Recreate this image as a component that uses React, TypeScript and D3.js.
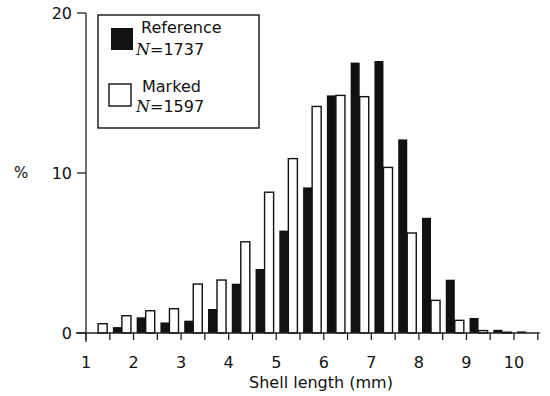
import * as d3 from 'd3'

// bin starts (mm), 0.5 mm bins
const BINS = [1, 1.5, 2, 2.5, 3, 3.5, 4, 4.5, 5, 5.5, 6, 6.5, 7, 7.5, 8, 8.5, 9, 9.5, 10]
const REFERENCE = [0, 0.37, 0.98, 0.66, 0.77, 1.5, 3.08, 4.0, 6.4, 9.1, 14.85, 16.9, 17.0, 12.1, 7.2, 3.33, 0.94, 0.2, 0.1]
const MARKED = [0.58, 1.08, 1.39, 1.52, 3.06, 3.31, 5.7, 8.8, 10.9, 14.16, 14.85, 14.77, 10.35, 6.25, 2.04, 0.79, 0.15, 0.05, 0]
const X_TICKS = [1, 2, 3, 4, 5, 6, 7, 8, 9, 10]
const Y_TICKS = [0, 10, 20]
const SERIES = ['Reference', 'Marked']

const FONT = '"DejaVu Sans", sans-serif'
const INK = '#111'

export default function App() {
  const W = 550
  const H = 396

  const x = d3.scaleLinear().domain([1, 10]).range([86, 514])
  const y = d3.scaleLinear().domain([0, 20]).range([333, 13])
  const binW = x(1.5) - x(1)
  const sub = d3.scaleBand<string>().domain(SERIES).range([binW * 0.13, binW * 0.89])

  const minorTicks = d3.range(1, 10.51, 0.5)
  const y0 = y(0)

  return (
    <div style={{ position: 'fixed', left: 0, top: 0 }}>
      <svg width={W} height={H} style={{ display: 'block', background: '#fff' }} fontFamily={FONT}>
        {/* bars */}
        {BINS.map((b, i) => {
          const L = x(b)
          const ref = REFERENCE[i]
          const mk = MARKED[i]
          return (
            <g key={b}>
              {ref > 0 && (
                <rect x={L + sub('Reference')!} y={y(ref)} width={sub.bandwidth()}
                  height={y0 - y(ref)} fill={INK} />
              )}
              {mk > 0 && (
                <rect x={L + sub('Marked')!} y={y(mk)} width={sub.bandwidth()}
                  height={y0 - y(mk)} fill="#fff" stroke={INK} strokeWidth={1.4} />
              )}
            </g>
          )
        })}

        {/* y axis */}
        <line x1={x(1)} x2={x(1)} y1={y(20)} y2={y0 + 9} stroke="#333" strokeWidth={1.4} />
        {Y_TICKS.map(t => (
          <g key={t}>
            <line x1={x(1) - 9} x2={x(1)} y1={y(t)} y2={y(t)} stroke="#333" strokeWidth={1.4} />
            <text x={72} y={y(t)} textAnchor="end" dominantBaseline="central" fontSize={16} fill={INK}>{t}</text>
          </g>
        ))}
        <text x={14} y={y(10)} dominantBaseline="central" fontSize={15} fill={INK}>%</text>

        {/* x axis */}
        <line x1={x(1) - 10} x2={x(10.5) + 2} y1={y0} y2={y0} stroke="#222" strokeWidth={1.5} />
        {minorTicks.map(t => (
          <line key={t} x1={x(t)} x2={x(t)} y1={y0} y2={y0 + 7} stroke="#222" strokeWidth={1.3} />
        ))}
        {X_TICKS.map(t => (
          <text key={t} x={x(t)} y={368} textAnchor="middle" fontSize={16} fill={INK}>{t}</text>
        ))}
        <text x={321} y={388} textAnchor="middle" fontSize={16} fill={INK}>Shell length (mm)</text>

        {/* legend */}
        <rect x={98} y={15} width={161} height={113} fill="#fff" stroke={INK} strokeWidth={1.4} />
        <rect x={111} y={28} width={22} height={22} fill={INK} />
        <text x={141} y={33} fontSize={16} fill={INK}>Reference</text>
        <text x={136} y={55} fontSize={16} fill={INK}>
          <tspan fontFamily='"DejaVu Serif", serif' fontStyle="italic">N</tspan>=1737
        </text>
        <rect x={109} y={84} width={22} height={22} fill="#fff" stroke={INK} strokeWidth={1.4} />
        <text x={142} y={92} fontSize={16} fill={INK}>Marked</text>
        <text x={136} y={112} fontSize={16} fill={INK}>
          <tspan fontFamily='"DejaVu Serif", serif' fontStyle="italic">N</tspan>=1597
        </text>
      </svg>
    </div>
  )
}
